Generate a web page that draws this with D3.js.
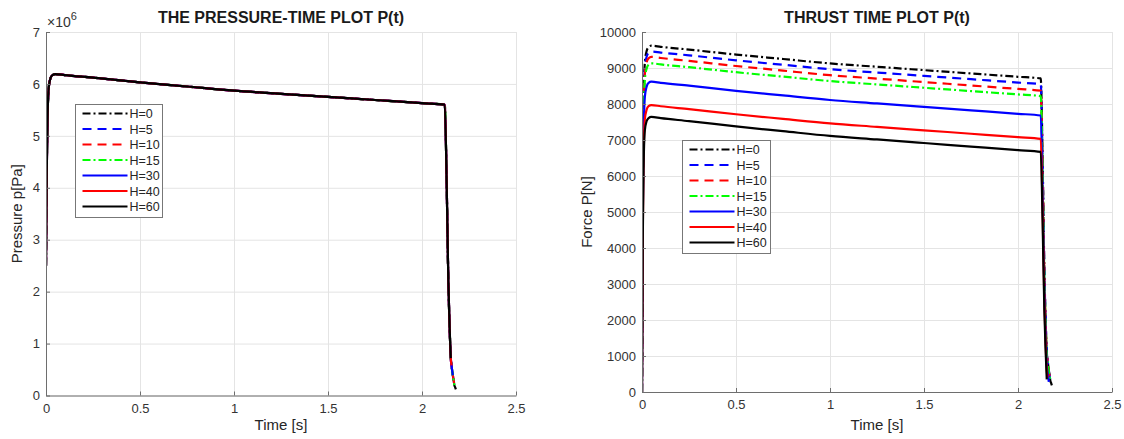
<!DOCTYPE html>
<html lang="en">
<head>
  <meta charset="UTF-8">
  <title>Pressure and thrust plots</title>
  <style>
    body { margin: 0; background: #fff; }
    svg { display: block; font-family: "Liberation Sans", Arial, sans-serif; }
    .tick text { fill: #333; font-size: 13px; }
    .axis path, .axis line { stroke: #6e6e6e; }
    .grid line { stroke: #e4e4e4; }
    .grid path { display: none; }
  </style>
</head>
<body>
  <script src="https://cdnjs.cloudflare.com/ajax/libs/d3/7.8.5/d3.min.js"></script>
  <svg></svg>
  <script>
    // shared time samples [s]
    var time = [0, 0.004, 0.008, 0.015, 0.025, 0.035, 0.05, 0.1, 0.25, 0.5, 0.75, 1.0, 1.25, 1.5, 1.75, 2.0,
                2.121, 2.131, 2.140, 2.147, 2.153, 2.157, 2.164, 2.168, 2.172, 2.176, 2.18];

    // chamber pressure [MPa] (same for every H, only the end point differs)
    var pressure = [2.5, 4.3, 5.3, 5.95, 6.12, 6.17, 6.19, 6.17, 6.12, 6.03, 5.95, 5.87, 5.81, 5.75, 5.69, 5.63,
                    5.60, 4.14, 2.22, 1.30, 0.72, 0.58, 0.39, 0.30, 0.20, 0.16, 0.12];
    var pressurePoints = [27, 25, 25, 25, 23, 22, 21];

    var labels = ['H=0', 'H=5', 'H=10', 'H=15', 'H=30', 'H=40', 'H=60'];
    var colors = ['#000000', '#0000ff', '#ff0000', '#00ff00', '#0000ff', '#ff0000', '#000000'];
    var dashes = ['8,3,2,3', '9,6', '9,6', '8,3,2,3', null, null, null];

    // thrust [N]
    var thrustH0 = [0, 5290, 7700, 9140, 9480, 9580, 9620, 9589, 9512, 9373, 9250, 9127, 9034, 8941, 8849, 8756,
                    8710, 6437, 3449, 2021, 1124, 906, 610, 470, 314, 253, 183];
    var thrustH5 = [0, 5200, 7570, 8990, 9320, 9420, 9460, 9429, 9352, 9213, 9090, 8967, 8874, 8781, 8689, 8596,
                    8550, 6318, 3386, 1984, 1103, 889, 599, 462, 308];
    var thrustH10 = [0, 5120, 7450, 8840, 9170, 9270, 9310, 9278, 9198, 9055, 8927, 8801, 8705, 8609, 8514, 8418,
                     8370, 6185, 3315, 1942, 1080, 870, 586, 452, 301];
    var thrustH15 = [0, 5020, 7300, 8670, 8990, 9090, 9130, 9099, 9022, 8883, 8760, 8637, 8544, 8451, 8359, 8266,
                     8220, 6075, 3255, 1907, 1060, 855, 575, 444, 296];
    var thrustH30 = [0, 4740, 6900, 8190, 8490, 8590, 8620, 8588, 8508, 8365, 8237, 8111, 8015, 7919, 7824, 7728,
                     7680, 5500, 2850, 1550, 750, 550, 280];
    var thrustH40 = [0, 4380, 6380, 7570, 7850, 7940, 7970, 7938, 7858, 7715, 7587, 7461, 7365, 7269, 7174, 7078,
                     7030, 5000, 2550, 1350, 600, 400];
    var thrustH60 = [0, 4200, 6110, 7260, 7530, 7610, 7640, 7607, 7525, 7377, 7245, 7114, 7015, 6916, 6818, 6719,
                     6670, 4700, 2300, 1150, 350];
    var thrust = [thrustH0, thrustH5, thrustH10, thrustH15, thrustH30, thrustH40, thrustH60];

    var xTicks = [0, 0.5, 1, 1.5, 2, 2.5];
    var pTicks = [0, 1, 2, 3, 4, 5, 6, 7];
    var fTicks = d3.range(0, 10001, 1000);

    var svg = d3.select('svg').attr('width', 1124).attr('height', 439);

    function panel(opt) {
      var x = d3.scaleLinear().domain([0, 2.5]).range([opt.left, opt.right]);
      var y = d3.scaleLinear().domain(opt.yDomain).range([opt.bottom, opt.top]);
      var g = svg.append('g');

      // grid
      g.append('g').attr('class', 'grid')
        .attr('transform', 'translate(0,' + opt.bottom + ')')
        .call(d3.axisBottom(x).tickValues(xTicks).tickSize(-(opt.bottom - opt.top)).tickFormat(''));
      g.append('g').attr('class', 'grid')
        .attr('transform', 'translate(' + opt.left + ',0)')
        .call(d3.axisLeft(y).tickValues(opt.yTicks).tickSize(-(opt.right - opt.left)).tickFormat(''));

      // lines
      var clipId = 'clip' + opt.left;
      g.append('clipPath').attr('id', clipId).append('rect')
        .attr('x', opt.left).attr('y', opt.top - 2)
        .attr('width', opt.right - opt.left).attr('height', opt.bottom - opt.top + 2);
      var line = d3.line().curve(d3.curveMonotoneX)
        .x(function(d) { return x(d[0]); }).y(function(d) { return y(d[1]); });
      g.append('g').attr('clip-path', 'url(#' + clipId + ')')
        .selectAll('path').data(opt.series).enter().append('path')
        .attr('d', line)
        .attr('fill', 'none')
        .attr('stroke', function(d, i) { return colors[i]; })
        .attr('stroke-width', 2.2)
        .attr('stroke-linejoin', 'round')
        .attr('stroke-dasharray', function(d, i) { return dashes[i]; });

      // axes
      g.append('g').attr('class', 'axis')
        .attr('transform', 'translate(0,' + opt.bottom + ')')
        .call(d3.axisBottom(x).tickValues(xTicks).tickSizeInner(-4).tickSizeOuter(0).tickPadding(8)
          .tickFormat(function(d) { return String(d); }));
      g.append('g').attr('class', 'axis')
        .attr('transform', 'translate(' + opt.left + ',0)')
        .call(d3.axisLeft(y).tickValues(opt.yTicks).tickSizeInner(-4).tickSizeOuter(0).tickPadding(6)
          .tickFormat(opt.yFormat));
      svg.selectAll('.axis .tick line').attr('stroke', '#6e6e6e');

      // title and labels
      g.append('text').attr('x', (opt.left + opt.right) / 2).attr('y', 23)
        .attr('text-anchor', 'middle').attr('font-weight', 'bold').attr('font-size', 16)
        .attr('fill', '#1a1a1a').text(opt.title);
      g.append('text').attr('x', (opt.left + opt.right) / 2).attr('y', 430)
        .attr('text-anchor', 'middle').attr('font-size', 15).attr('fill', '#262626').text('Time [s]');
      g.append('text')
        .attr('transform', 'translate(' + opt.ylabelX + ',' + (opt.top + opt.bottom) / 2 + ') rotate(-90)')
        .attr('text-anchor', 'middle').attr('font-size', 15).attr('fill', '#262626').text(opt.ylabel);

      // legend
      var L = opt.legend;
      var lg = g.append('g').attr('transform', 'translate(' + L.x + ',' + L.y + ')');
      lg.append('rect').attr('width', L.w).attr('height', L.h)
        .attr('fill', '#fff').attr('stroke', '#777').attr('stroke-width', 1);
      var row = lg.selectAll('g.row').data(labels).enter().append('g')
        .attr('transform', function(d, i) { return 'translate(0,' + (9 + i * 15.5) + ')'; });
      row.append('line').attr('x1', 7).attr('x2', 52)
        .attr('stroke', function(d, i) { return colors[i]; })
        .attr('stroke-width', 2.2)
        .attr('stroke-dasharray', function(d, i) { return dashes[i]; });
      row.append('text').attr('x', 54).attr('y', 4.5).attr('font-size', 12.5)
        .attr('fill', '#262626').text(function(d) { return d; });
      return g;
    }

    var left = panel({
      left: 46, right: 516, top: 32, bottom: 395.5,
      yDomain: [0, 7], yTicks: pTicks, yFormat: function(d) { return String(d); },
      series: labels.map(function(l, i) {
        return time.slice(0, pressurePoints[i]).map(function(t, j) { return [t, pressure[j]]; });
      }),
      title: 'THE PRESSURE-TIME PLOT P(t)', ylabel: 'Pressure p[Pa]', ylabelX: 22,
      legend: {x: 75.5, y: 104.5, w: 87, h: 113}
    });
    // exponent label
    var ex = left.append('text').attr('x', 47).attr('y', 27).attr('font-size', 14).attr('fill', '#333');
    ex.append('tspan').text('\u00d710');
    ex.append('tspan').attr('dy', -7).attr('font-size', 11).text('6');

    panel({
      left: 642, right: 1112, top: 32, bottom: 392,
      yDomain: [0, 10000], yTicks: fTicks, yFormat: function(d) { return String(d); },
      series: thrust.map(function(s) {
        return s.map(function(v, j) { return [time[j], v]; });
      }),
      title: 'THRUST TIME PLOT P(t)', ylabel: 'Force P[N]', ylabelX: 592,
      legend: {x: 682.5, y: 140.5, w: 88, h: 113}
    });
  </script>
</body>
</html>
